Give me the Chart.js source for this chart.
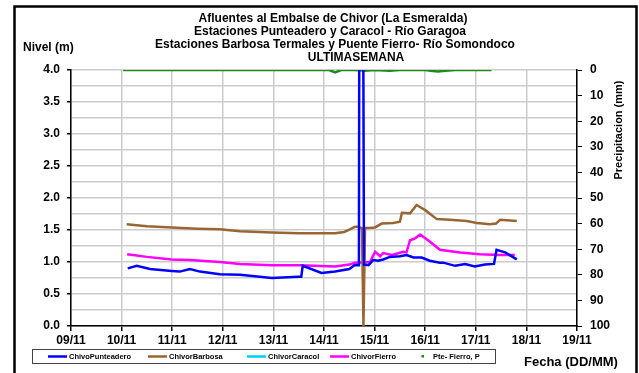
<!DOCTYPE html>
<html>
<head>
<meta charset="utf-8">
<script src="https://cdn.jsdelivr.net/npm/chart.js@4/dist/chart.umd.min.js"></script>
<style>
  html, body { margin: 0; padding: 0; background: #fff; }
  #wrap { width: 639px; height: 373px; position: relative; }
</style>
</head>
<body>
<div id="wrap"><canvas id="c" width="639" height="373"></canvas></div>
<script>
// ---- data (x = days since 09/11) ----
const dayLabels = ['09/11','10/11','11/11','12/11','13/11','14/11','15/11','16/11','17/11','18/11','19/11'];
const titleLines = [
  'Afluentes al Embalse de Chivor (La Esmeralda)',
  'Estaciones Punteadero y Caracol - Río Garagoa',
  'Estaciones Barbosa Termales y Puente Fierro- Río Somondoco',
  'ULTIMASEMANA'
];
const seriesNames = ['ChivoPunteadero','ChivorBarbosa','ChivorCaracol','ChivorFierro','Pte- Fierro, P'];

const punteaderoX = [1.12,1.30,1.56,1.99,2.15,2.35,2.55,2.94,3.34,3.97,4.49,4.55,4.58,4.95,5.22,5.50,5.60,5.69,5.70,5.77,5.79,5.88,5.97,6.07,6.17,6.30,6.50,6.63,6.77,6.93,7.09,7.29,7.36,7.59,7.79,7.98,8.18,8.36,8.41,8.58,8.81];
const punteaderoY = [0.90,0.94,0.89,0.86,0.85,0.89,0.85,0.81,0.80,0.75,0.77,0.77,0.94,0.83,0.85,0.89,0.95,0.95,6.00,6.00,0.96,0.95,1.03,1.02,1.04,1.08,1.09,1.11,1.07,1.07,1.02,0.99,0.99,0.94,0.97,0.93,0.96,0.97,1.19,1.15,1.04];

const barbosaX = [1.10,1.50,1.99,2.50,2.94,3.34,3.97,4.50,5.00,5.22,5.40,5.51,5.61,5.67,5.75,5.78,5.81,5.88,6.01,6.14,6.37,6.50,6.54,6.70,6.83,7.00,7.23,7.49,7.82,8.02,8.28,8.40,8.48,8.81];
const barbosaY = [1.59,1.56,1.54,1.52,1.51,1.48,1.46,1.45,1.45,1.45,1.47,1.51,1.55,1.55,1.53,0.00,1.53,1.53,1.54,1.60,1.61,1.63,1.77,1.76,1.89,1.81,1.67,1.66,1.64,1.61,1.59,1.60,1.66,1.64];

const caracolX = [];
const caracolY = [];

const fierroX = [1.11,1.50,1.99,2.35,2.94,3.34,3.97,4.53,5.22,5.50,5.61,5.91,6.01,6.11,6.17,6.34,6.57,6.63,6.70,6.80,6.90,7.09,7.29,7.69,8.08,8.48,8.77];
const fierroY = [1.12,1.08,1.04,1.03,1.00,0.97,0.95,0.95,0.93,0.96,0.99,1.00,1.16,1.09,1.14,1.11,1.16,1.15,1.34,1.37,1.43,1.32,1.19,1.15,1.12,1.11,1.11];

const precipX = [1.03,1.50,2.00,2.50,3.00,3.50,4.00,4.50,5.10,5.22,5.34,5.60,5.80,6.00,6.30,6.50,7.00,7.15,7.25,7.40,7.60,8.00,8.31];
const precipY = [0,0,0,0,0,0,0,0,0,0.9,0,0,0.3,0,0.3,0,0,0.4,0.6,0.3,0,0,0];

const levelTicks = { min: 0, max: 4, step: 0.25 };
const precipTicks = { min: 0, max: 100, step: 10 };

function pts(xs, ys) { return xs.map((x, i) => ({ x: x, y: ys[i] })); }

const FONT = "'Liberation Sans', Arial, sans-serif";
const colors = ['#0000ff', '#996633', '#00ccff', '#ff00ff', '#1a8c1a'];

const decor = {
  id: 'decor',
  afterDraw(chart) {
    const ctx = chart.ctx;
    ctx.save();
    // outer frame
    ctx.strokeStyle = '#000';
    ctx.lineWidth = 2.5;
    ctx.strokeRect(14.5, 6.5, 622, 380);
    // titles
    ctx.fillStyle = '#000';
    ctx.textBaseline = 'middle';
    ctx.textAlign = 'center';
    ctx.font = 'bold 12px ' + FONT;
    const cx = [333, 330, 335, 356];
    const cy = [19, 32, 45, 58];
    titleLines.forEach((t, i) => ctx.fillText(t, cx[i], cy[i]));
    // axis titles
    ctx.textAlign = 'left';
    ctx.fillText('Nivel (m)', 23, 48);
    ctx.font = 'bold 13px ' + FONT;
    ctx.fillText('Fecha (DD/MM)', 524, 362);
    ctx.save();
    ctx.translate(619, 130);
    ctx.rotate(-Math.PI / 2);
    ctx.textAlign = 'center';
    ctx.font = 'bold 11px ' + FONT;
    ctx.fillText('Precipitacion (mm)', 0, 0);
    ctx.restore();
    // legend box
    ctx.strokeStyle = '#444';
    ctx.lineWidth = 1;
    ctx.strokeRect(32.5, 349.5, 463, 14);
    ctx.font = 'bold 7.5px ' + FONT;
    ctx.textAlign = 'left';
    const ly = 356.5;
    const lineStarts = [48, 148, 247, 330];
    for (let i = 0; i < 4; i++) {
      ctx.strokeStyle = colors[i];
      ctx.lineWidth = 2.5;
      ctx.beginPath();
      ctx.moveTo(lineStarts[i], ly);
      ctx.lineTo(lineStarts[i] + 19, ly);
      ctx.stroke();
      ctx.fillStyle = '#000';
      ctx.fillText(seriesNames[i], lineStarts[i] + 21, ly);
    }
    ctx.fillStyle = colors[4];
    ctx.fillRect(421.5, 355, 2.5, 2.5);
    ctx.fillStyle = '#000';
    ctx.fillText(seriesNames[4], 433, ly);
    ctx.restore();
  }
};

const halfStep = v => Math.round(v * 100) % 50 === 0;

new Chart(document.getElementById('c'), {
  type: 'line',
  data: {
    datasets: [
      { label: seriesNames[0], data: pts(punteaderoX, punteaderoY), borderColor: colors[0], borderWidth: 2.5, pointRadius: 0, yAxisID: 'y', tension: 0 },
      { label: seriesNames[1], data: pts(barbosaX, barbosaY), borderColor: colors[1], borderWidth: 2.5, pointRadius: 0, yAxisID: 'y', tension: 0 },
      { label: seriesNames[2], data: pts(caracolX, caracolY), borderColor: colors[2], borderWidth: 2.5, pointRadius: 0, yAxisID: 'y' },
      { label: seriesNames[3], data: pts(fierroX, fierroY), borderColor: colors[3], borderWidth: 2.5, pointRadius: 0, yAxisID: 'y', tension: 0 },
      { label: seriesNames[4], data: pts(precipX, precipY), borderColor: colors[4], borderWidth: 2.5, pointRadius: 0, yAxisID: 'y2', tension: 0 }
    ]
  },
  options: {
    responsive: false,
    animation: false,
    devicePixelRatio: 1,
    layout: { padding: { top: 70, left: 0, right: 0, bottom: 0 } },
    plugins: { legend: { display: false }, title: { display: false }, tooltip: { enabled: false } },
    scales: {
      x: {
        type: 'linear', min: 0, max: 10,
        afterFit: s => { s.height = 47; },
        ticks: { stepSize: 1, callback: v => dayLabels[Math.round(v)], color: '#000', font: { family: FONT, size: 12, weight: 'bold' }, padding: 2, maxRotation: 0 },
        grid: { color: '#cccccc', lineWidth: 1.5, tickColor: '#000', tickLength: 5 },
        border: { color: '#000', width: 1.5 }
      },
      y: {
        position: 'left', min: levelTicks.min, max: levelTicks.max,
        afterFit: s => { s.width = 71; },
        ticks: { stepSize: levelTicks.step, autoSkip: false, callback: v => halfStep(v) ? v.toFixed(1) : '', color: '#000', font: { family: FONT, size: 12, weight: 'bold' }, padding: 7 },
        grid: { color: '#cccccc', lineWidth: 1.5, tickLength: 4, tickColor: c => halfStep(c.tick.value) ? '#000' : 'rgba(0,0,0,0)' },
        border: { color: '#000', width: 1.5 }
      },
      y2: {
        position: 'right', min: precipTicks.min, max: precipTicks.max, reverse: true,
        afterFit: s => { s.width = 62; },
        ticks: { stepSize: precipTicks.step, color: '#000', font: { family: FONT, size: 12, weight: 'bold' }, padding: 8 },
        grid: { drawOnChartArea: false, tickColor: '#000', tickLength: 5 },
        border: { color: '#000', width: 1.5 }
      }
    }
  },
  plugins: [decor]
});
</script>
</body>
</html>
